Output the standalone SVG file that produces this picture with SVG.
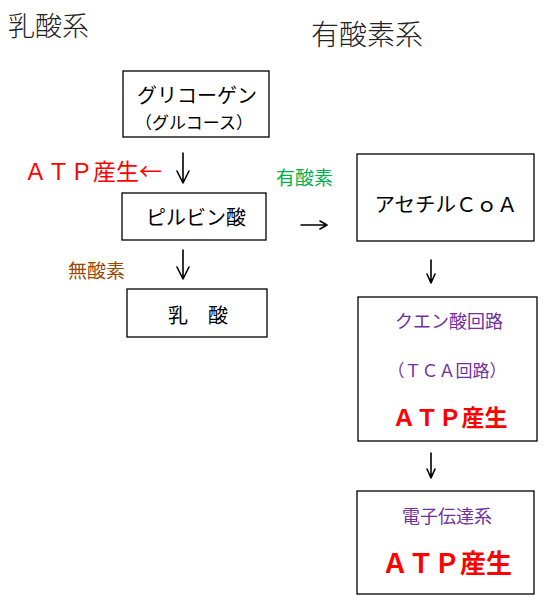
<svg xmlns="http://www.w3.org/2000/svg" width="546" height="611" viewBox="0 0 546 611">
  <style>
    .box { fill: #ffffff; stroke: #000000; stroke-width: 1.3; }
    .t { font-family: "Noto Sans CJK JP", "Liberation Sans", sans-serif; fill: #000000; }
    .title { font-family: "Liberation Serif", "Noto Sans CJK JP", serif; fill: #222222; font-weight: 300; }
    .mid { text-anchor: middle; }
    .purple { fill: #7030A0; }
    .red { fill: #FF0000; }
    .atp { font-weight: bold; fill: #FF0000; }
    .arrow { fill: none; stroke: #000000; stroke-width: 1.6; stroke-linecap: round; stroke-linejoin: round; }
  </style>
  <rect width="546" height="611" fill="#ffffff"/>

  <text class="title" x="8" y="36" font-size="27">乳酸系</text>
  <text class="title" x="311" y="45" font-size="28">有酸素系</text>

  <g id="glycogen">
    <rect class="box" x="123" y="71" width="146" height="66"/>
    <text class="t mid" x="197" y="103" font-size="20">グリコーゲン</text>
    <text class="t mid" x="194" y="129" font-size="17">（グルコース）</text>
  </g>

  <g id="pyruvate">
    <rect class="box" x="122" y="193" width="144" height="47"/>
    <text class="t mid" x="196" y="225" font-size="20">ピルビン酸</text>
  </g>

  <g id="lactate">
    <rect class="box" x="127" y="289" width="140" height="48"/>
    <text class="t mid" x="198" y="323" font-size="20">乳　酸</text>
  </g>

  <g id="acetylcoa">
    <rect class="box" x="357" y="154" width="177" height="87"/>
    <text class="t mid" x="446" y="212" font-size="20.5">アセチルＣｏＡ</text>
  </g>

  <g id="tca">
    <rect class="box" x="358" y="297" width="179" height="144"/>
    <text class="t mid purple" x="449" y="328" font-size="18">クエン酸回路</text>
    <text class="t mid purple" x="447" y="377" font-size="17">（ＴＣＡ回路）</text>
    <text class="t mid atp" x="450" y="426" font-size="23">ＡＴＰ産生</text>
  </g>

  <g id="etc">
    <rect class="box" x="357" y="491" width="177" height="103"/>
    <text class="t mid purple" x="447" y="523" font-size="18">電子伝達系</text>
    <text class="t mid atp" x="447" y="573" font-size="26">ＡＴＰ産生</text>
  </g>

  <g id="labels">
    <text class="t red" x="24" y="180" font-size="23">ＡＴＰ産生←</text>
    <text class="t" x="276" y="185" font-size="19" style="fill:#00B050">有酸素</text>
    <text class="t" x="68" y="278" font-size="19" style="fill:#984807">無酸素</text>
  </g>

  <g id="connectors">
    <path class="arrow" d="M183 153 V183 M177 171 L183 183 L189 171"/>
    <path class="arrow" d="M183 250 V279 M177 267 L183 279 L189 267"/>
    <path class="arrow" d="M301 225 H327 M320 221 L327 225 L320 229"/>
    <path class="arrow" d="M431 260 V283 M427 274 L431 283 L435 274"/>
    <path class="arrow" d="M431 453 V478 M427 469 L431 478 L435 469"/>
  </g>
</svg>
